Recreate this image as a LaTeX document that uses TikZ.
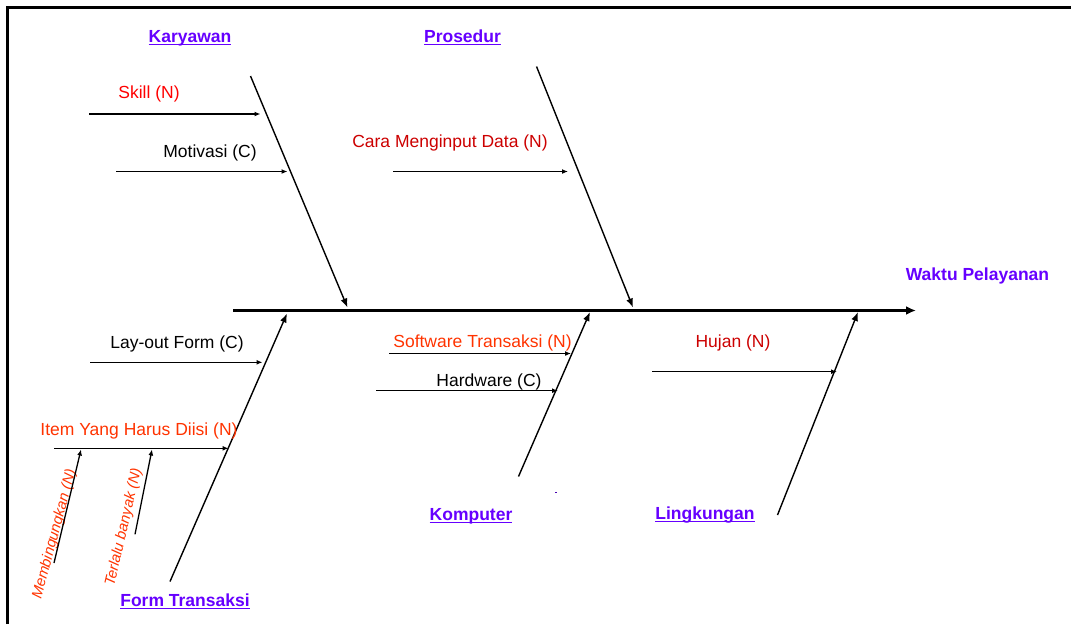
\documentclass[tikz,border=0pt]{standalone}
\usepackage{fontspec}
\setmainfont{Liberation Sans}
\usepackage{tikz}
\usetikzlibrary{arrows.meta, positioning}
\usepackage{xcolor}
\definecolor{category}{RGB}{102,0,255}
\definecolor{bright}{RGB}{255,0,0}
\definecolor{dark}{RGB}{204,0,0}
\definecolor{orangered}{RGB}{255,51,0}
\newcommand{\catline}[1]{\setbox0\hbox{#1}\rlap{\vrule height -1.6pt depth 3pt width \wd0}\box0}
\tikzstyle{head} = [font=\fontsize{17.5}{21}\selectfont\bfseries, text=category, inner sep=0, anchor=base]
\tikzstyle{cause} = [font=\fontsize{17.5}{21}\selectfont, inner sep=0, anchor=base]
\tikzstyle{subcause} = [font=\fontsize{14.8}{18}\selectfont\itshape, text=orangered, inner sep=0, anchor=base west]
\tikzstyle{spine} = [line width=3pt, -{Latex[length=10pt,width=9pt]}]
\tikzstyle{bone} = [line width=1.4pt, -{Latex[length=9pt,width=7pt]}]
\tikzstyle{arrow} = [line width=1.3pt, -{Latex[length=6pt,width=5pt]}]

\begin{document}
\begin{tikzpicture}[x=1pt, y=-1pt]
\useasboundingbox (0,0) rectangle (1071,624);

% Frame
\draw[line width=2.7pt] (7.3,624) -- (7.3,7.3) -- (1071,7.3);

% Effect
\coordinate (tail) at (233,310.5);
\coordinate (tip) at (916,310.5);
\draw [spine] (tail) -- (tip);
\node (waktu) [head] at (977.5,280) {Waktu Pelayanan};

% Categories
\node (karyawan) [head] at (190,42) {\catline{Karyawan}};
\node (prosedur) [head] at (462.5,42) {\catline{Prosedur}};
\node (form) [head] at (185,606) {\catline{Form Transaksi}};
\node (komputer) [head] at (471,520) {\catline{Komputer}};
\node (lingkungan) [head] at (705,519) {\catline{Lingkungan}};

% Bones
\coordinate (karyawan a) at (250.5,76);
\coordinate (karyawan b) at (347.5,307.5);
\coordinate (prosedur a) at (536.5,66.5);
\coordinate (prosedur b) at (633,307.5);
\coordinate (form a) at (170,581.5);
\coordinate (form b) at (287,313.5);
\coordinate (komputer a) at (518.5,476.5);
\coordinate (komputer b) at (590,312);
\coordinate (lingkungan a) at (777.5,515);
\coordinate (lingkungan b) at (858,312);
\draw [bone] (karyawan a) -- (karyawan b);
\draw [bone] (prosedur a) -- (prosedur b);
\draw [bone] (form a) -- (form b);
\draw [bone] (komputer a) -- (komputer b);
\draw [bone] (lingkungan a) -- (lingkungan b);

% Causes
\node (skill) [cause, text=bright] at (149,98.5) {Skill (N)};
\node (motivasi) [cause] at (210,157) {Motivasi (C)};
\node (cara) [cause, text=dark] at (450,147) {Cara Menginput Data (N)};
\node (layout) [cause] at (177,348.5) {Lay-out Form (C)};
\node (item) [cause, text=orangered] at (139,435) {Item Yang Harus Diisi (N)};
\node (software) [cause, text=orangered] at (482.5,347) {Software Transaksi (N)};
\node (hardware) [cause] at (489,386) {Hardware (C)};
\node (hujan) [cause, text=dark] at (733,347.5) {Hujan (N)};

\coordinate (skill a) at (89,114);
\coordinate (skill b) at (260.5,114);
\coordinate (motivasi a) at (116,171.5);
\coordinate (motivasi b) at (287.5,171.5);
\coordinate (cara a) at (393,171.5);
\coordinate (cara b) at (568,171.5);
\coordinate (layout a) at (90,362.3);
\coordinate (layout b) at (262.5,362.3);
\coordinate (item a) at (54,448.3);
\coordinate (item b) at (228.5,448.3);
\coordinate (software a) at (389,353.5);
\coordinate (software b) at (571,353.5);
\coordinate (hardware a) at (376,390.7);
\coordinate (hardware b) at (558,390.7);
\coordinate (hujan a) at (652,371.7);
\coordinate (hujan b) at (837,371.7);
\draw [arrow] (skill a) -- (skill b);
\draw [arrow] (motivasi a) -- (motivasi b);
\draw [arrow] (cara a) -- (cara b);
\draw [arrow] (layout a) -- (layout b);
\draw [arrow] (item a) -- (item b);
\draw [arrow] (software a) -- (software b);
\draw [arrow] (hardware a) -- (hardware b);
\draw [arrow] (hujan a) -- (hujan b);

% Sub-causes of Item Yang Harus Diisi
\node (membingungkan) [subcause, rotate=75] at (41,600) {Membingungkan (N)};
\node (terlalu) [subcause, rotate=77] at (114,587) {Terlalu banyak (N)};
\coordinate (membingungkan a) at (54,563);
\coordinate (membingungkan b) at (81,449.5);
\coordinate (terlalu a) at (135,534.3);
\coordinate (terlalu b) at (152,449.5);
\draw [arrow] (membingungkan a) -- (membingungkan b);
\draw [arrow] (terlalu a) -- (terlalu b);

% stray mark
\fill[category!70!black] (555.3,491.8) rectangle (556.8,493.3);

\end{tikzpicture}
\end{document}
